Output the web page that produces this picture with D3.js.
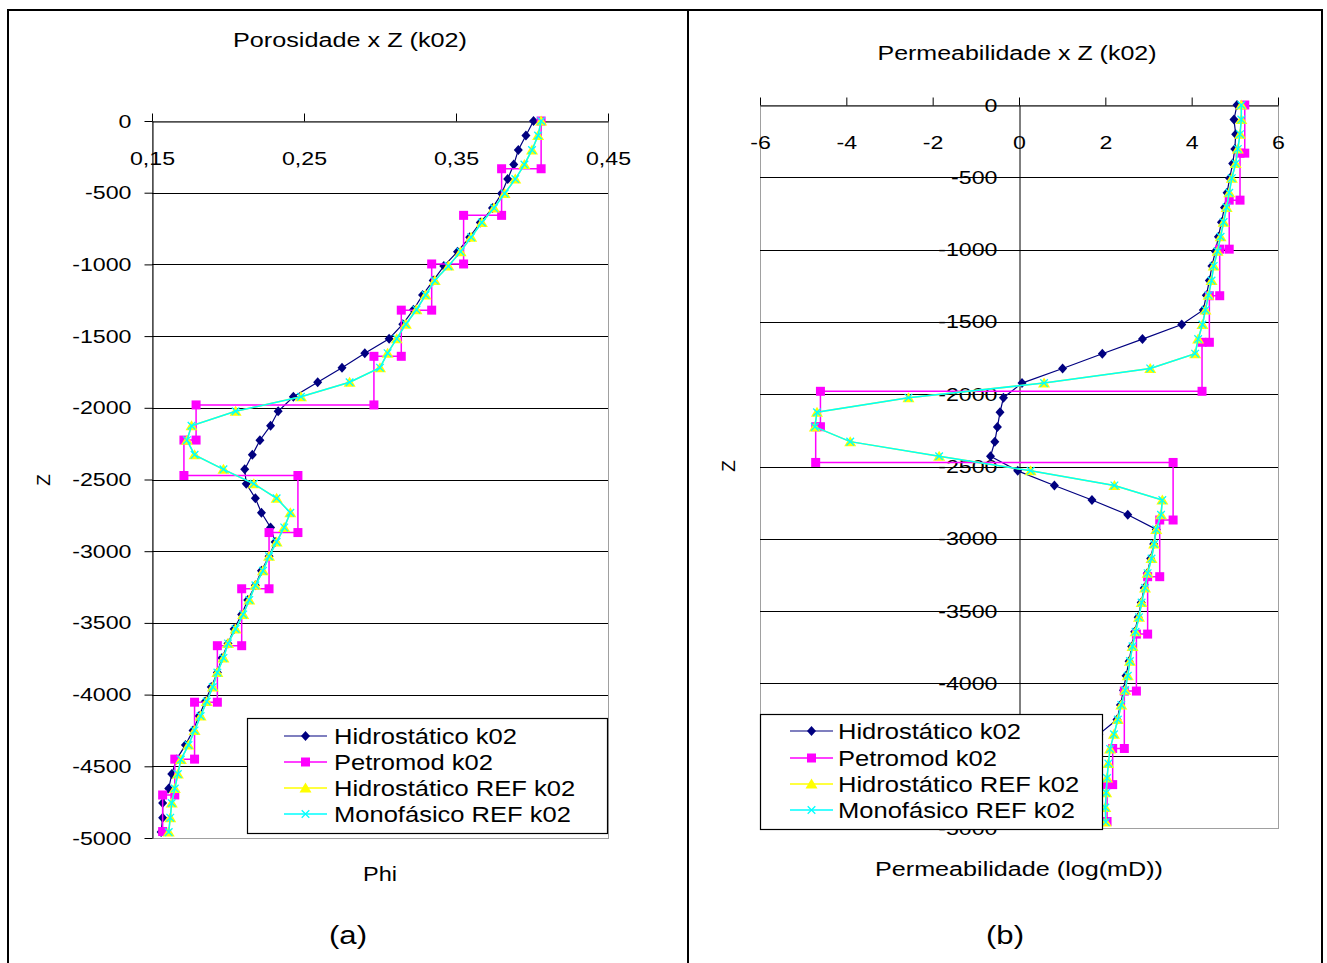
<!DOCTYPE html>
<html><head><meta charset="utf-8">
<script src="https://cdn.jsdelivr.net/npm/d3@7"></script>
<style>
body{margin:0;background:#fff}
svg{display:block}
text{font-family:Arial,"Liberation Sans",sans-serif;fill:#000}
</style>
</head><body>
<svg id="c" width="1327" height="963"></svg>
<script>
// ---------------- DATA ----------------
const seriesNames = ["Hidrostático k02", "Petromod k02", "Hidrostático REF k02", "Monofásico REF k02"];

// depth of the sampled points (Z, m)
const depthSamples = [0,-101,-202,-304,-405,-506,-607,-708,-810,-911,-1012,-1113,-1214,-1316,-1417,-1518,-1619,-1720,-1822,-1923,-2024,-2125,-2226,-2328,-2429,-2530,-2631,-2732,-2834,-2935,-3036,-3137,-3238,-3340,-3441,-3542,-3643,-3744,-3846,-3947,-4048,-4149,-4250,-4352,-4453,-4554,-4655,-4756,-4858,-4959];

// Porosity (Phi)
const phiHidro = [0.401,0.396,0.391,0.388,0.384,0.380,0.374,0.366,0.359,0.351,0.342,0.335,0.328,0.322,0.315,0.306,0.290,0.275,0.259,0.243,0.233,0.228,0.221,0.216,0.211,0.212,0.218,0.222,0.228,0.231,0.227,0.222,0.218,0.213,0.209,0.204,0.200,0.196,0.193,0.189,0.185,0.181,0.177,0.172,0.166,0.163,0.161,0.157,0.157,0.156];
const phiHidroRef = [0.406,0.404,0.400,0.395,0.389,0.382,0.375,0.367,0.360,0.353,0.345,0.336,0.330,0.324,0.317,0.311,0.305,0.300,0.280,0.248,0.205,0.176,0.173,0.178,0.197,0.217,0.232,0.241,0.237,0.232,0.227,0.223,0.218,0.214,0.210,0.205,0.200,0.197,0.193,0.190,0.186,0.182,0.178,0.174,0.169,0.167,0.165,0.163,0.162,0.161];
const phiMonoRef = [0.406,0.404,0.400,0.395,0.389,0.382,0.375,0.367,0.360,0.353,0.345,0.336,0.330,0.324,0.317,0.311,0.305,0.300,0.280,0.248,0.205,0.176,0.173,0.178,0.197,0.217,0.232,0.241,0.237,0.232,0.227,0.223,0.218,0.214,0.210,0.205,0.200,0.197,0.193,0.190,0.186,0.182,0.178,0.174,0.169,0.167,0.165,0.163,0.162,0.161];

// Permeability log(mD)
const logkHidro = [5.05,4.98,5.02,5.00,4.95,4.88,4.82,4.76,4.69,4.62,4.55,4.47,4.41,4.34,4.27,3.77,2.86,1.93,1.01,0.07,-0.36,-0.44,-0.50,-0.56,-0.66,-0.03,0.82,1.69,2.52,3.18,3.12,3.05,2.97,2.90,2.83,2.76,2.68,2.61,2.55,2.48,2.42,2.35,2.27,1.85,1.60,1.50,1.40,1.30,1.25,1.20];
const logkHidroRef = [5.15,5.15,5.12,5.07,5.02,4.93,4.87,4.81,4.74,4.67,4.60,4.51,4.46,4.39,4.32,4.25,4.15,4.08,3.04,0.58,-2.56,-4.68,-4.73,-3.91,-1.85,0.27,2.21,3.32,3.29,3.18,3.13,3.07,2.98,2.92,2.84,2.78,2.70,2.63,2.57,2.52,2.46,2.37,2.29,2.20,2.11,2.07,2.04,2.02,2.00,2.01];
const logkMonoRef = [5.15,5.15,5.12,5.07,5.02,4.93,4.87,4.81,4.74,4.67,4.60,4.51,4.46,4.39,4.32,4.25,4.15,4.08,3.04,0.58,-2.56,-4.68,-4.73,-3.91,-1.85,0.27,2.21,3.32,3.29,3.18,3.13,3.07,2.98,2.92,2.84,2.78,2.70,2.63,2.57,2.52,2.46,2.37,2.29,2.20,2.11,2.07,2.04,2.02,2.00,2.01];

// Petromod layered model (step profile)
const petromodDepth = [0,-333,-333,-658,-658,-997,-997,-1319,-1319,-1641,-1641,-1980,-1980,-2225,-2225,-2472,-2472,-2870,-2870,-3262,-3262,-3659,-3659,-4053,-4053,-4450,-4450,-4700,-4700,-4955];
const petromodPhi = [0.406,0.406,0.380,0.380,0.355,0.355,0.334,0.334,0.314,0.314,0.296,0.296,0.179,0.179,0.171,0.171,0.246,0.246,0.227,0.227,0.209,0.209,0.193,0.193,0.178,0.178,0.165,0.165,0.157,0.157];
const petromodLogK = [5.23,5.23,5.12,5.12,4.87,4.87,4.65,4.65,4.41,4.41,4.24,4.24,-4.60,-4.60,-4.71,-4.71,3.57,3.57,3.26,3.26,2.98,2.98,2.72,2.72,2.44,2.44,2.17,2.17,2.04,2.04];

// ticks
const phiTicks = [0.15, 0.25, 0.35, 0.45];
const logkTicks = [-6, -4, -2, 0, 2, 4, 6];
const zTicks = [0,-500,-1000,-1500,-2000,-2500,-3000,-3500,-4000,-4500,-5000];

// ---------------- DRAWING ----------------
const svg = d3.select('#c');
const FONT_TICK = 19, FONT_LEG = 22;

function stretch(sel, k) {
  sel.each(function () {
    const w = this.getComputedTextLength();
    this.setAttribute('textLength', (w * k).toFixed(1));
    this.setAttribute('lengthAdjust', 'spacingAndGlyphs');
  });
}
function fit(sel, w, mode) { sel.attr('textLength', w).attr('lengthAdjust', mode || 'spacingAndGlyphs'); }

const styles = [
  {color: '#000080', width: 1.2, marker: 'diamond'},
  {color: '#FF00FF', width: 1.5, marker: 'square'},
  {color: '#FFFF00', width: 1.5, marker: 'triangle'},
  {color: '#00FFFF', width: 1.5, marker: 'x'}
];
function markerPath(t) {
  if (t === 'diamond') return 'M0,-5L4.5,0L0,5L-4.5,0Z';
  if (t === 'square') return 'M-4.5,-4.5h9v9h-9Z';
  if (t === 'triangle') return 'M0,-5.5L6,4.5L-6,4.5Z';
  return 'M-3.8,-3.8L3.8,3.8M-3.8,3.8L3.8,-3.8';
}
function drawMarkers(g, pts, st) {
  const m = g.append('g').selectAll('path').data(pts).join('path')
    .attr('d', markerPath(st.marker))
    .attr('transform', d => `translate(${d[0]},${d[1]})`);
  if (st.marker === 'x') m.attr('fill', 'none').attr('stroke', st.color).attr('stroke-width', 1.3);
  else m.attr('fill', st.color).attr('stroke', 'none');
}

// outer frame
const frame = svg.append('g').attr('stroke', '#000').attr('stroke-width', 2);
frame.append('line').attr('x1', 7).attr('x2', 1323).attr('y1', 10).attr('y2', 10);
frame.append('line').attr('x1', 8).attr('x2', 8).attr('y1', 9).attr('y2', 963);
frame.append('line').attr('x1', 688).attr('x2', 688).attr('y1', 9).attr('y2', 963);
frame.append('line').attr('x1', 1322).attr('x2', 1322).attr('y1', 9).attr('y2', 963);

function drawChart(o) {
  const g = svg.append('g');
  const x = d3.scaleLinear(o.xDomain, [o.left, o.right]);
  const y = d3.scaleLinear([0, -5000], [o.top, o.bottom]);

  // plot area border
  g.append('rect').attr('x', o.left + 0.5).attr('y', o.top + 0.5)
    .attr('width', o.right - o.left).attr('height', o.bottom - o.top)
    .attr('fill', '#fff').attr('stroke', '#a0a0a0');

  // gridlines
  g.append('g').selectAll('line').data(zTicks.filter(d => d < 0 && d > -5000)).join('line')
    .attr('x1', o.left).attr('x2', o.right)
    .attr('y1', d => Math.round(y(d)) + 0.5).attr('y2', d => Math.round(y(d)) + 0.5)
    .attr('stroke', '#000').attr('stroke-width', 1);

  // Z axis
  const za = g.append('g').attr('transform', `translate(${Math.round(x(o.zAxisAt)) + 0.5},0)`)
    .call(d3.axisLeft(y).tickValues(zTicks).tickFormat(d => String(d))
      .tickSize(o.zTickSize).tickSizeOuter(0).tickPadding(o.zPad));
  za.attr('font-size', null).attr('font-family', null);
  za.select('.domain').attr('stroke', '#000');
  za.selectAll('.tick line').attr('stroke', '#000');
  za.selectAll('.tick text').attr('font-size', FONT_TICK).attr('fill', '#000').call(stretch, 1.22);

  // X axis on top (labels below the line)
  const xa = g.append('g').attr('transform', `translate(0,${o.top + 0.5})`)
    .call(d3.axisTop(x).tickValues(o.xTicks).tickFormat(o.xFormat).tickSize(8).tickSizeOuter(0));
  xa.attr('font-size', null).attr('font-family', null);
  xa.select('.domain').attr('stroke', '#000');
  xa.selectAll('.tick line').attr('stroke', '#000');
  xa.selectAll('.tick text').attr('y', 37).attr('dy', '0.35em').attr('font-size', FONT_TICK)
    .attr('fill', '#000').call(stretch, 1.22);

  // series
  const clipId = 'clip' + o.id;
  svg.append('clipPath').attr('id', clipId).append('rect')
    .attr('x', o.left - 20).attr('y', o.top - 20)
    .attr('width', o.right - o.left + 40).attr('height', o.bottom - o.top + 20);
  const sg = g.append('g').attr('clip-path', `url(#${clipId})`);
  o.series.forEach((s, i) => {
    const st = styles[i];
    const pts = s.z.map((zz, k) => [x(s.v[k]), y(zz)]);
    sg.append('path').attr('d', d3.line()(pts)).attr('fill', 'none')
      .attr('stroke', st.color).attr('stroke-width', st.width);
    drawMarkers(sg, pts, st);
  });

  // texts
  g.append('text').attr('x', o.titleX).attr('y', o.titleY).attr('dy', '0.35em')
    .attr('text-anchor', 'middle').attr('font-size', 20).text(o.title).call(fit, o.titleW);
  g.append('text').attr('x', o.xTitleX).attr('y', o.xTitleY).attr('dy', '0.35em')
    .attr('text-anchor', 'middle').attr('font-size', 20).text(o.xTitle).call(fit, o.xTitleW);
  g.append('text').attr('transform', `translate(${o.zTitleX},${o.zTitleY}) rotate(-90)`)
    .attr('dy', '0.35em').attr('text-anchor', 'middle').attr('font-size', 19).text('Z');
  g.append('text').attr('x', o.panelX).attr('y', 935).attr('dy', '0.35em')
    .attr('text-anchor', 'middle').attr('font-size', 25).text(o.panel).call(fit, 38);

  // legend
  const lg = g.append('g');
  lg.append('rect').attr('x', o.legX + 0.5).attr('y', o.legY + 0.5).attr('width', o.legW).attr('height', o.legH)
    .attr('fill', '#fff').attr('stroke', '#000').attr('stroke-width', 1.2);
  seriesNames.forEach((name, i) => {
    const st = styles[i];
    const cy = o.legRows[i];
    lg.append('line').attr('x1', o.legX + o.legSample).attr('x2', o.legX + o.legSample + 43)
      .attr('y1', cy).attr('y2', cy).attr('stroke', st.color).attr('stroke-width', st.width);
    drawMarkers(lg, [[o.legX + o.legSample + 21.5, cy]], st);
    lg.append('text').attr('x', o.legX + o.legText).attr('y', cy).attr('dy', '0.35em')
      .attr('font-size', FONT_LEG).text(name).call(stretch, 1.16);
  });
}

const fmtPhi = d => d.toFixed(2).replace('.', ',');

drawChart({
  id: 'L', xDomain: [0.15, 0.45], left: 152, right: 608, top: 121, bottom: 838,
  zAxisAt: 0.15, zTickSize: 8, zPad: 13, xTicks: phiTicks, xFormat: fmtPhi,
  series: [
    {z: depthSamples, v: phiHidro},
    {z: petromodDepth, v: petromodPhi},
    {z: depthSamples, v: phiHidroRef},
    {z: depthSamples, v: phiMonoRef}
  ],
  title: 'Porosidade x Z (k02)', titleX: 350, titleY: 40, titleW: 234,
  xTitle: 'Phi', xTitleX: 380, xTitleY: 874, xTitleW: 34,
  zTitleX: 43, zTitleY: 480, panel: '(a)', panelX: 348,
  legX: 247, legY: 718, legW: 360, legH: 115, legRows: [736, 762, 788, 814], legSample: 37, legText: 87
});

drawChart({
  id: 'R', xDomain: [-6, 6], left: 760, right: 1278, top: 105, bottom: 828,
  zAxisAt: 0, zTickSize: 0, zPad: 22, xTicks: logkTicks, xFormat: d => String(d),
  series: [
    {z: depthSamples, v: logkHidro},
    {z: petromodDepth, v: petromodLogK},
    {z: depthSamples, v: logkHidroRef},
    {z: depthSamples, v: logkMonoRef}
  ],
  title: 'Permeabilidade x Z (k02)', titleX: 1017, titleY: 53, titleW: 279,
  xTitle: 'Permeabilidade (log(mD))', xTitleX: 1019, xTitleY: 869, xTitleW: 288,
  zTitleX: 728, zTitleY: 466, panel: '(b)', panelX: 1005,
  legX: 760, legY: 714, legW: 342, legH: 115, legRows: [731, 758, 784, 810], legSample: 30, legText: 78
});
</script>
</body></html>
